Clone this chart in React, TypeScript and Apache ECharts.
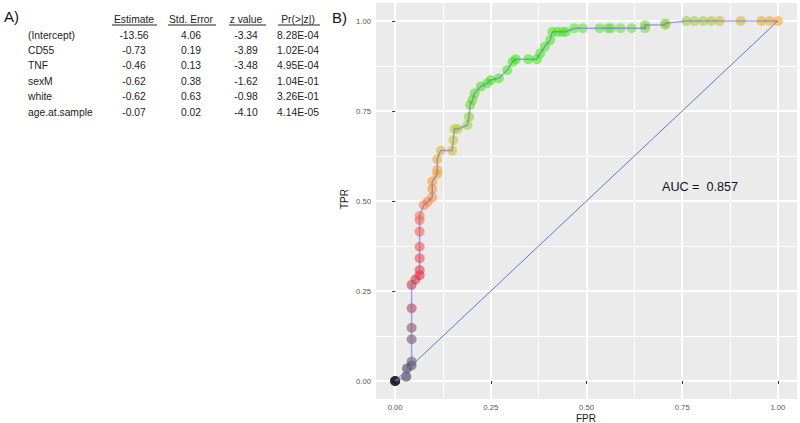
import React, { useEffect, useRef } from 'react';
import * as echarts from 'echarts';

// ---- Panel A: logistic regression table ----
const tableHeaders = ['Estimate', 'Std. Error', 'z value', 'Pr(>|z|)'];
const predictors = ['(Intercept)', 'CD55', 'TNF', 'sexM', 'white', 'age.at.sample'];
const estimates = ['-13.56', '-0.73', '-0.46', '-0.62', '-0.62', '-0.07'];
const stdErrors = ['4.06', '0.19', '0.13', '0.38', '0.63', '0.02'];
const zValues = ['-3.34', '-3.89', '-3.48', '-1.62', '-0.98', '-4.10'];
const pValues = ['8.28E-04', '1.02E-04', '4.95E-04', '1.04E-01', '3.26E-01', '4.14E-05'];

// ---- Panel B: ROC curve ----
const fpr = [
  0, 0, 0, 0.029, 0.031, 0.043, 0.043, 0.043, 0.043, 0.043,
  0.043, 0.053, 0.064, 0.064, 0.064, 0.064, 0.064, 0.064, 0.064, 0.075,
  0.085, 0.097, 0.097, 0.097, 0.110, 0.110, 0.110, 0.119, 0.149, 0.152,
  0.155, 0.164, 0.189, 0.193, 0.196, 0.202, 0.208, 0.224, 0.241, 0.250,
  0.271, 0.293, 0.307, 0.315, 0.348, 0.370, 0.379, 0.391, 0.405, 0.411,
  0.425, 0.438, 0.446, 0.468, 0.490, 0.534, 0.556, 0.564, 0.589, 0.618,
  0.653, 0.653, 0.706, 0.706, 0.761, 0.782, 0.805, 0.826, 0.848, 0.903,
  0.957, 0.979, 1.000,
];
const tpr = [
  0, 0, 0, 0.012, 0.035, 0.043, 0.054, 0.116, 0.148, 0.202,
  0.267, 0.282, 0.294, 0.308, 0.341, 0.373, 0.415, 0.447, 0.459, 0.489,
  0.498, 0.510, 0.533, 0.554, 0.575, 0.586, 0.616, 0.640, 0.640, 0.669,
  0.700, 0.700, 0.711, 0.734, 0.767, 0.781, 0.799, 0.818, 0.827, 0.836,
  0.841, 0.864, 0.887, 0.894, 0.894, 0.894, 0.910, 0.929, 0.947, 0.970,
  0.970, 0.970, 0.970, 0.980, 0.980, 0.980, 0.980, 0.980, 0.980, 0.980,
  0.980, 0.989, 0.989, 0.994, 1, 1, 1, 1, 1, 1,
  1, 1, 1,
];
const diagonal = [[0, 0], [1, 1]];
const majorTicks = [0, 0.25, 0.5, 0.75, 1];
const minorTicks = [0.125, 0.375, 0.625, 0.875];
const aucLabel = 'AUC =  0.857';
const xTitle = 'FPR';
const yTitle = 'TPR';

// colour ramp along the cut-off order (styling, not data)
const pointRamp = [
  '#000000', '#555555', '#ff1a1a', '#ff6f3c', '#ff9a1a', '#b8cc20', '#44e010',
  '#33ee00', '#33ee00', '#55e52a', '#70d535', '#a5c82a', '#ffa010',
];

const FONT = '"Liberation Sans", Arial, sans-serif';

export default function App() {
  const ref = useRef<HTMLDivElement>(null);

  useEffect(() => {
    if (!ref.current) return;
    const chart = echarts.init(ref.current, undefined, { renderer: 'svg', width: 800, height: 423 });

    const colX = [134, 191, 246, 298];
    const underline = [[112, 157], [168, 216], [229, 266], [278, 320]];
    const rowY0 = 35;
    const rowStep = 15.4;
    const textStyle = { fontFamily: FONT, fontSize: 10.3, fill: '#222' };

    const tableGraphics: any[] = [];
    tableGraphics.push({
      type: 'text', z: 100,
      style: { text: 'A)', x: 4, y: 16, verticalAlign: 'middle', fontFamily: FONT, fontSize: 15, fill: '#111' },
    });
    tableHeaders.forEach((h, j) => {
      tableGraphics.push({
        type: 'text', z: 100,
        style: { ...textStyle, text: h, x: colX[j], y: 19, align: 'center', verticalAlign: 'middle' },
      });
      tableGraphics.push({
        type: 'line', z: 100,
        shape: { x1: underline[j][0], y1: 25, x2: underline[j][1], y2: 25 },
        style: { stroke: '#222', lineWidth: 1 },
      });
    });
    const cols = [estimates, stdErrors, zValues, pValues];
    predictors.forEach((p, i) => {
      const y = rowY0 + i * rowStep;
      tableGraphics.push({
        type: 'text', z: 100,
        style: { ...textStyle, text: p, x: 28, y, verticalAlign: 'middle' },
      });
      cols.forEach((c, j) => {
        tableGraphics.push({
          type: 'text', z: 100,
          style: { ...textStyle, text: c[i], x: colX[j], y, align: 'center', verticalAlign: 'middle' },
        });
      });
    });

    const fmt = (v: number) => v.toFixed(2);
    const n = fpr.length;

    const option: any = {
      animation: false,
      grid: {
        left: 376, right: 3, top: 3, bottom: 24,
        show: true, backgroundColor: '#EBEBEB', borderWidth: 0, containLabel: false,
      },
      xAxis: [
        {
          type: 'value', min: -0.05, max: 1.05, position: 'bottom',
          axisLine: { show: false },
          axisTick: { show: true, customValues: majorTicks, length: 3, lineStyle: { color: '#333', width: 1 } },
          axisLabel: { customValues: majorTicks, formatter: fmt, fontSize: 7.7, color: '#555', margin: 4, fontFamily: FONT },
          splitLine: { show: true, lineStyle: { color: '#ffffff', width: 2 } },
        },
        {
          type: 'value', min: -0.05, max: 1.05, position: 'bottom',
          axisLine: { show: false },
          axisTick: { show: false, customValues: minorTicks },
          axisLabel: { show: false, customValues: minorTicks },
          splitLine: { show: true, lineStyle: { color: '#ffffff', width: 1 } },
        },
      ],
      yAxis: [
        {
          type: 'value', min: -0.05, max: 1.05, position: 'left',
          axisLine: { show: false },
          axisTick: { show: true, customValues: majorTicks, length: 3, lineStyle: { color: '#333', width: 1 } },
          axisLabel: { customValues: majorTicks, formatter: fmt, fontSize: 7.7, color: '#555', margin: 5, fontFamily: FONT },
          splitLine: { show: true, lineStyle: { color: '#ffffff', width: 2 } },
        },
        {
          type: 'value', min: -0.05, max: 1.05, position: 'left',
          axisLine: { show: false },
          axisTick: { show: false, customValues: minorTicks },
          axisLabel: { show: false, customValues: minorTicks },
          splitLine: { show: true, lineStyle: { color: '#ffffff', width: 1 } },
        },
      ],
      series: [
        {
          type: 'scatter', silent: true, z: 3, symbolSize: 10,
          data: fpr.map((x, i) => [x, tpr[i]]),
          itemStyle: {
            color: (p: any) => echarts.color.lerp(p.dataIndex / (n - 1), pointRamp),
            opacity: 0.55,
          },
        },
        {
          type: 'line', silent: true, symbol: 'none', showSymbol: false, z: 4,
          data: fpr.map((x, i) => [x, tpr[i]]),
          itemStyle: { color: '#6b6bf0' },
          lineStyle: { color: '#6b6bf0', width: 1.5, opacity: 0.6 },
        },
        {
          type: 'line', silent: true, symbol: 'none', showSymbol: false, z: 4,
          data: diagonal,
          itemStyle: { color: '#6e6edc' },
          lineStyle: { color: '#6e6edc', width: 1 },
        },
      ],
      graphic: [
        ...tableGraphics,
        {
          type: 'text', z: 100,
          style: { text: 'B)', x: 332, y: 17, verticalAlign: 'middle', fontFamily: FONT, fontSize: 15, fill: '#111' },
        },
        {
          type: 'text', z: 100,
          style: { text: aucLabel, x: 662, y: 187, verticalAlign: 'middle', fontFamily: FONT, fontSize: 12.6, fill: '#111' },
        },
        {
          type: 'text', z: 100,
          style: { text: xTitle, x: 586, y: 418, align: 'center', verticalAlign: 'middle', fontFamily: FONT, fontSize: 10, fill: '#1a1a1a' },
        },
        {
          type: 'text', z: 100, x: 344, y: 199, rotation: Math.PI / 2,
          style: { text: yTitle, x: 0, y: 0, align: 'center', verticalAlign: 'middle', fontFamily: FONT, fontSize: 10, fill: '#1a1a1a' },
        },
      ],
    };

    chart.setOption(option);
    return () => chart.dispose();
  }, []);

  return (
    <div
      ref={ref}
      style={{ position: 'fixed', left: 0, top: 0, width: 800, height: 423, background: '#fff' }}
    />
  );
}
